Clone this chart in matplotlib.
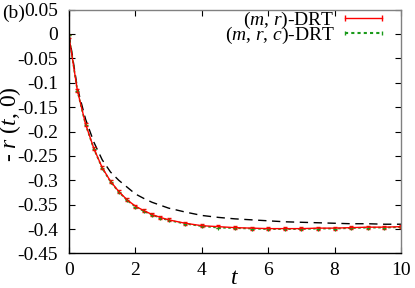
import matplotlib
matplotlib.use('Agg')
import matplotlib.pyplot as plt

plt.rcParams['font.family'] = 'Liberation Serif'
plt.rcParams['mathtext.fontset'] = 'custom'
plt.rcParams['mathtext.rm'] = 'Liberation Serif'
plt.rcParams['mathtext.it'] = 'Liberation Serif:italic'
plt.rcParams['axes.unicode_minus'] = False

# time grid
t = [0, 0.25, 0.5, 0.75, 1.0, 1.25, 1.5, 1.75, 2.0, 2.25, 2.5, 2.75, 3.0, 3.5,
     4.0, 4.5, 5.0, 5.5, 6.0, 6.5, 7.0, 7.5, 8.0, 8.5, 9.0, 9.5, 10.0]

# (m, r)-DRT
r_mr = [-0.005, -0.115, -0.185, -0.235, -0.274, -0.302, -0.323, -0.340, -0.353,
        -0.362, -0.370, -0.376, -0.381, -0.388, -0.393, -0.395, -0.397, -0.398,
        -0.399, -0.399, -0.399, -0.398, -0.398, -0.397, -0.396, -0.396, -0.395]
err_mr = [0.003] * len(t)

# (m, r, c)-DRT
r_mrc = [-0.003, -0.116, -0.186, -0.236, -0.275, -0.303, -0.324, -0.341, -0.354,
         -0.363, -0.371, -0.377, -0.382, -0.389, -0.394, -0.397, -0.398, -0.399,
         -0.400, -0.400, -0.400, -0.399, -0.399, -0.398, -0.397, -0.397, -0.396]

# reference (dashed)
r_ref = [0.0, -0.110, -0.175, -0.222, -0.258, -0.283, -0.300, -0.314, -0.328,
         -0.337, -0.345, -0.351, -0.357, -0.365, -0.372, -0.376, -0.379, -0.381,
         -0.383, -0.385, -0.386, -0.387, -0.388, -0.389, -0.389, -0.390, -0.390]

fig = plt.figure(figsize=(4.15, 2.88), dpi=100)
ax = fig.add_axes([0.1663, 0.1198, 0.80, 0.8469])

ax.plot(t, r_ref, color='black', lw=1, dashes=(6, 4))
ax.errorbar(t, r_mr, yerr=err_mr, color='red', lw=1, capsize=1.5, elinewidth=0.8)
ax.plot(t, r_mrc, color='#1a9a1a', lw=1.2, ls=(0, (1.5, 1.5)), marker='+', ms=3, mew=0.8)

h1, = ax.plot([], [], color='red', lw=1, marker='|', ms=5, mew=1)
h2, = ax.plot([], [], color='#1a9a1a', lw=1.5, ls=(0, (1.5, 1.5)), marker='|', ms=3, mew=1)
ax.legend([h1, h2], ['($m$, $r$)-DRT', '($m$, $r$, $c$)-DRT'], loc='upper right',
          bbox_to_anchor=(0.973, 1.015),
          markerfirst=False, numpoints=2, frameon=False, fontsize=14,
          handlelength=2.5, handletextpad=0.25, labelspacing=-0.33,
          borderaxespad=0.1, borderpad=0.1)

ax.set_xlim(0, 10)
ax.set_ylim(-0.45, 0.05)
ax.set_xticks([0, 2, 4, 6, 8, 10])
ax.set_yticks([-0.45, -0.4, -0.35, -0.3, -0.25, -0.2, -0.15, -0.1, -0.05, 0, 0.05])
ax.set_yticklabels(['-0.45', '-0.4', '-0.35', '-0.3', '-0.25', '-0.2', '-0.15',
                    '-0.1', '-0.05', '0', '0.05'])
ax.tick_params(direction='in', top=True, right=True, labelsize=14, length=4, width=0.8)
ax.tick_params(axis='y', pad=8)
ax.tick_params(axis='x', pad=6)
for s in ['top', 'right']:
    ax.spines[s].set_color('#808080')
for s in ax.spines.values():
    s.set_linewidth(1)

ax.set_xlabel('$t$', fontsize=17)
ax.xaxis.set_label_coords(0.5, -0.06)
ax.set_ylabel('- $r$ ($t$, 0)', fontsize=17)
ax.yaxis.set_label_coords(-0.14, 0.53)
fig.text(0.005, 0.955, '(b)', fontsize=14, va='center')

fig.savefig('out.png', dpi=100)
